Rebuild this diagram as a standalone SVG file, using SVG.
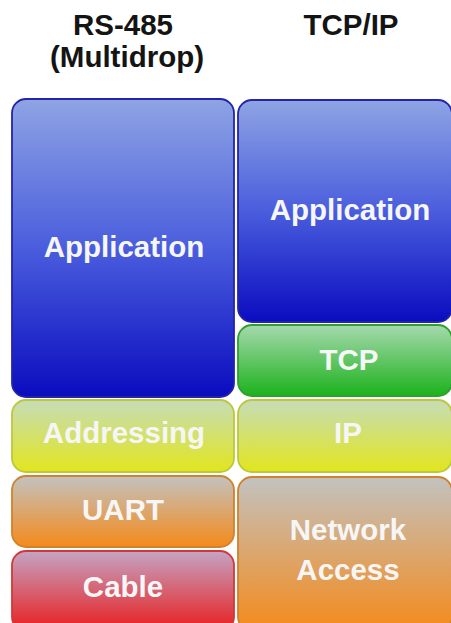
<svg xmlns="http://www.w3.org/2000/svg" width="451" height="623" viewBox="0 0 451 623">
  <style>
    .title { font-family: "Liberation Sans", Arial, sans-serif; font-weight: bold; font-size: 29.5px; fill: #141414; text-anchor: middle; }
    .label { font-family: "Liberation Sans", Arial, sans-serif; font-weight: bold; font-size: 29.5px; fill: #f6f6f6; text-anchor: middle; }
    .layer { stroke-width: 1.8; }
  </style>
  <defs>
    <linearGradient id="gBlue" x1="0" y1="0" x2="0" y2="1">
      <stop offset="0" stop-color="#8ea4e4"/>
      <stop offset="0.5" stop-color="#4a5ddd"/>
      <stop offset="1" stop-color="#0a0cbf"/>
    </linearGradient>
    <linearGradient id="gGreen" x1="0" y1="0" x2="0" y2="1">
      <stop offset="0" stop-color="#a6d9ae"/>
      <stop offset="1" stop-color="#1cb21c"/>
    </linearGradient>
    <linearGradient id="gYellow" x1="0" y1="0" x2="0" y2="1">
      <stop offset="0" stop-color="#c6dcb8"/>
      <stop offset="1" stop-color="#e2e61c"/>
    </linearGradient>
    <linearGradient id="gOrange" x1="0" y1="0" x2="0" y2="1">
      <stop offset="0" stop-color="#c2c2c0"/>
      <stop offset="1" stop-color="#f58a1a"/>
    </linearGradient>
    <linearGradient id="gRed" x1="0" y1="0" x2="0" y2="1">
      <stop offset="0" stop-color="#c4a4c4"/>
      <stop offset="1" stop-color="#e81e1e"/>
    </linearGradient>
  </defs>

  <rect width="451" height="623" fill="#ffffff"/>

  <!-- column headings -->
  <g id="heading-rs485">
    <text class="title" x="123" y="35">RS-485</text>
    <text class="title" x="127" y="67">(Multidrop)</text>
  </g>
  <g id="heading-tcpip">
    <text class="title" x="351" y="35">TCP/IP</text>
  </g>

  <!-- RS-485 stack -->
  <g id="rs-application">
    <rect class="layer" x="12" y="99" width="222" height="298" rx="14" fill="url(#gBlue)" stroke="#2424a8"/>
    <text class="label" x="124" y="257">Application</text>
  </g>
  <g id="rs-addressing">
    <rect class="layer" x="12" y="400" width="222" height="72" rx="14" fill="url(#gYellow)" stroke="#bcc83c"/>
    <text class="label" x="124" y="443">Addressing</text>
  </g>
  <g id="rs-uart">
    <rect class="layer" x="12" y="476" width="222" height="71" rx="14" fill="url(#gOrange)" stroke="#d0822c"/>
    <text class="label" x="123" y="520">UART</text>
  </g>
  <g id="rs-cable">
    <rect class="layer" x="12" y="551" width="222" height="80" rx="14" fill="url(#gRed)" stroke="#d23838"/>
    <text class="label" x="123" y="597">Cable</text>
  </g>

  <!-- TCP/IP stack -->
  <g id="tcp-application">
    <rect class="layer" x="238" y="100" width="214" height="222" rx="14" fill="url(#gBlue)" stroke="#2424a8"/>
    <text class="label" x="350" y="220">Application</text>
  </g>
  <g id="tcp-tcp">
    <rect class="layer" x="238" y="325" width="214" height="71" rx="14" fill="url(#gGreen)" stroke="#2ea02e"/>
    <text class="label" x="349" y="370">TCP</text>
  </g>
  <g id="tcp-ip">
    <rect class="layer" x="238" y="400" width="214" height="72" rx="14" fill="url(#gYellow)" stroke="#bcc83c"/>
    <text class="label" x="348" y="443">IP</text>
  </g>
  <g id="tcp-network-access">
    <rect class="layer" x="238" y="477" width="214" height="154" rx="14" fill="url(#gOrange)" stroke="#d0822c"/>
    <text class="label" x="348" y="540">Network</text>
    <text class="label" x="348" y="580">Access</text>
  </g>
</svg>
